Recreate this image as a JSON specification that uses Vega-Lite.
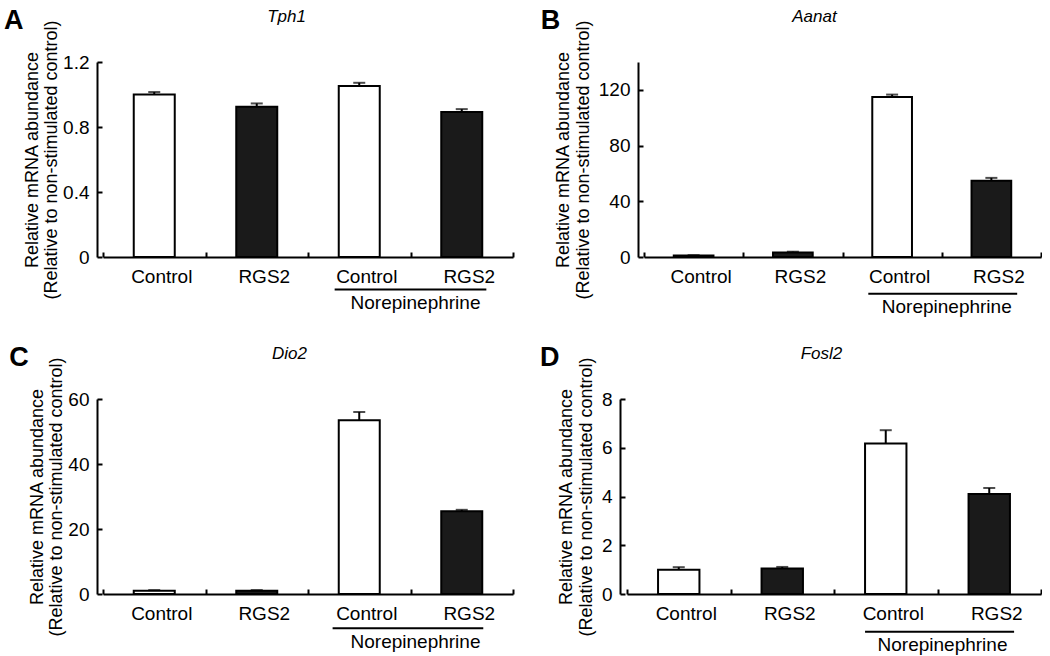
{
  "$schema": "https://vega.github.io/schema/vega-lite/v6.json",
  "padding": {"left": 4, "top": 7, "right": 0, "bottom": 0},
  "background": "white",
  "datasets": {
    "expr": [
      {"gene": "Tph1", "group": "Control", "treatment": "Control", "mean": 1.0, "upper": 1.015},
      {"gene": "Tph1", "group": "RGS2", "treatment": "RGS2", "mean": 0.925, "upper": 0.945},
      {"gene": "Tph1", "group": "NE Control", "treatment": "Control", "mean": 1.052, "upper": 1.072},
      {"gene": "Tph1", "group": "NE RGS2", "treatment": "RGS2", "mean": 0.893, "upper": 0.91},
      {"gene": "Aanat", "group": "Control", "treatment": "Control", "mean": 1.0, "upper": 1.3},
      {"gene": "Aanat", "group": "RGS2", "treatment": "RGS2", "mean": 3.2, "upper": 3.8},
      {"gene": "Aanat", "group": "NE Control", "treatment": "Control", "mean": 114.8, "upper": 116.6},
      {"gene": "Aanat", "group": "NE RGS2", "treatment": "RGS2", "mean": 54.8, "upper": 56.8},
      {"gene": "Dio2", "group": "Control", "treatment": "Control", "mean": 1.0, "upper": 1.2},
      {"gene": "Dio2", "group": "RGS2", "treatment": "RGS2", "mean": 1.0, "upper": 1.2},
      {"gene": "Dio2", "group": "NE Control", "treatment": "Control", "mean": 53.5, "upper": 56.0},
      {"gene": "Dio2", "group": "NE RGS2", "treatment": "RGS2", "mean": 25.5, "upper": 25.9},
      {"gene": "Fosl2", "group": "Control", "treatment": "Control", "mean": 1.0, "upper": 1.1},
      {"gene": "Fosl2", "group": "RGS2", "treatment": "RGS2", "mean": 1.05, "upper": 1.11},
      {"gene": "Fosl2", "group": "NE Control", "treatment": "Control", "mean": 6.17, "upper": 6.72},
      {"gene": "Fosl2", "group": "NE RGS2", "treatment": "RGS2", "mean": 4.1, "upper": 4.35}
    ],
    "bracket": [
      {"from": "NE Control", "to": "NE RGS2", "label": "Norepinephrine"}
    ]
  },
  "columns": 2,
  "spacing": {"row": 142, "column": 114},
  "bounds": "flush",
  "concat": [
    {
      "title": {"text": "A", "anchor": "start", "frame": "bounds", "fontSize": 27, "fontWeight": "bold", "color": "black", "offset": -28, "dx": -19},
      "width": 410, "height": 195,
      "resolve": {"axis": {"x": "independent"}},
      "layer": [
        {
          "data": {"name": "expr"}, "transform": [{"filter": "datum.gene === 'Tph1'"}],
          "mark": {"type": "bar", "stroke": "black", "strokeWidth": 2, "width": {"band": 0.4}, "clip": false},
          "encoding": {
            "x": {"field": "group", "type": "nominal", "sort": null,
              "scale": {"domain": ["Control", "RGS2", "NE Control", "NE RGS2"], "paddingInner": 0, "paddingOuter": 0},
              "axis": {"title": null, "tickBand": "extent", "labelExpr": "replace(datum.label, 'NE ', '')", "labelAngle": 0, "labelPadding": 15.5, "labelBaseline": "top", "labelOffset": 7}},
            "y": {"field": "mean", "type": "quantitative", "scale": {"domain": [0, 1.2], "nice": false},
              "axis": {"values": [0, 0.2, 0.4, 0.6, 0.8, 1, 1.2], "format": "~g", "labelExpr": "abs(datum.value / 0.4 - round(datum.value / 0.4)) < 0.001 ? datum.label : ''", "labelPadding": 13, "labelOverlap": false, "offset": 6,
                "title": ["Relative mRNA abundance", "(Relative to non-stimulated control)"], "titleFontSize": 18, "titleLineHeight": 19.5, "titlePadding": 2, "titleFontWeight": "normal"}},
            "fill": {"field": "treatment", "type": "nominal", "scale": {"domain": ["Control", "RGS2"], "range": ["white", "#1a1a1a"]}, "legend": null}
          }
        },
        {
          "data": {"name": "expr"}, "transform": [{"filter": "datum.gene === 'Tph1'"}],
          "mark": {"type": "rule", "strokeWidth": 2, "color": "black", "clip": false},
          "encoding": {
            "x": {"field": "group", "type": "nominal", "axis": null},
            "y": {"field": "mean", "type": "quantitative"},
            "y2": {"field": "upper"}
          }
        },
        {
          "data": {"name": "expr"}, "transform": [{"filter": "datum.gene === 'Tph1'"}],
          "mark": {"type": "tick", "size": 12, "thickness": 2, "color": "black", "clip": false},
          "encoding": {
            "x": {"field": "group", "type": "nominal",
              "axis": {"orient": "top", "title": "Tph1", "labels": false, "ticks": false, "domain": false, "titleFontStyle": "italic", "titleFontWeight": "normal", "titleFontSize": 17, "titleX": 183, "titleY": -46, "titleBaseline": "middle", "titleAlign": "center"}},
            "y": {"field": "upper", "type": "quantitative"}
          }
        },
        {
          "data": {"name": "bracket"},
          "mark": {"type": "rule", "strokeWidth": 2, "color": "black", "clip": false},
          "encoding": {
            "x": {"field": "from", "type": "nominal", "bandPosition": 0.26, "axis": null},
            "x2": {"field": "to", "bandPosition": 0.74},
            "y": {"datum": -0.2}
          }
        },
        {
          "data": {"name": "bracket"},
          "mark": {"type": "text", "fontSize": 19, "dx": 5, "baseline": "middle", "color": "black", "clip": false},
          "encoding": {
            "x": {"field": "to", "type": "nominal", "bandPosition": 0, "axis": null},
            "y": {"datum": -0.286},
            "text": {"field": "label"}
          }
        }
      ]
    },
    {
      "title": {"text": "B", "anchor": "start", "frame": "bounds", "fontSize": 27, "fontWeight": "bold", "color": "black", "offset": -28, "dx": -14},
      "width": 414, "height": 195,
      "resolve": {"axis": {"x": "independent"}},
      "layer": [
        {
          "data": {"name": "expr"}, "transform": [{"filter": "datum.gene === 'Aanat'"}],
          "mark": {"type": "bar", "stroke": "black", "strokeWidth": 2, "width": {"band": 0.4}, "clip": false},
          "encoding": {
            "x": {"field": "group", "type": "nominal", "sort": null,
              "scale": {"domain": ["Control", "RGS2", "NE Control", "NE RGS2"], "paddingInner": 0, "paddingOuter": 0, "range": [17, 414]},
              "axis": {"title": null, "tickBand": "extent", "labelExpr": "replace(datum.label, 'NE ', '')", "labelAngle": 0, "labelPadding": 15.5, "labelBaseline": "top", "labelOffset": 7}},
            "y": {"field": "mean", "type": "quantitative", "scale": {"domain": [0, 140], "nice": false},
              "axis": {"values": [0, 20, 40, 60, 80, 100, 120, 140], "labelExpr": "datum.value % 40 == 0 ? datum.label : ''", "labelPadding": 13, "labelOverlap": false, "offset": -11,
                "title": ["Relative mRNA abundance", "(Relative to non-stimulated control)"], "titleFontSize": 18, "titleLineHeight": 19.5, "titlePadding": 6, "titleFontWeight": "normal"}},
            "fill": {"field": "treatment", "type": "nominal", "scale": {"domain": ["Control", "RGS2"], "range": ["white", "#1a1a1a"]}, "legend": null}
          }
        },
        {
          "data": {"name": "expr"}, "transform": [{"filter": "datum.gene === 'Aanat'"}],
          "mark": {"type": "rule", "strokeWidth": 2, "color": "black", "clip": false},
          "encoding": {
            "x": {"field": "group", "type": "nominal", "axis": null},
            "y": {"field": "mean", "type": "quantitative"},
            "y2": {"field": "upper"}
          }
        },
        {
          "data": {"name": "expr"}, "transform": [{"filter": "datum.gene === 'Aanat'"}],
          "mark": {"type": "tick", "size": 12, "thickness": 2, "color": "black", "clip": false},
          "encoding": {
            "x": {"field": "group", "type": "nominal",
              "axis": {"orient": "top", "title": "Aanat", "labels": false, "ticks": false, "domain": false, "titleFontStyle": "italic", "titleFontWeight": "normal", "titleFontSize": 17, "titleX": 187, "titleY": -46, "titleBaseline": "middle", "titleAlign": "center"}},
            "y": {"field": "upper", "type": "quantitative"}
          }
        },
        {
          "data": {"name": "bracket"},
          "mark": {"type": "rule", "strokeWidth": 2, "color": "black", "clip": false},
          "encoding": {
            "x": {"field": "from", "type": "nominal", "bandPosition": 0.26, "axis": null},
            "x2": {"field": "to", "bandPosition": 0.76},
            "y": {"datum": -26.4}
          }
        },
        {
          "data": {"name": "bracket"},
          "mark": {"type": "text", "fontSize": 19, "dx": 5, "baseline": "middle", "color": "black", "clip": false},
          "encoding": {
            "x": {"field": "to", "type": "nominal", "bandPosition": 0, "axis": null},
            "y": {"datum": -36},
            "text": {"field": "label"}
          }
        }
      ]
    },
    {
      "title": {"text": "C", "anchor": "start", "frame": "bounds", "fontSize": 27, "fontWeight": "bold", "color": "black", "offset": -28, "dx": -19},
      "width": 410, "height": 195,
      "resolve": {"axis": {"x": "independent"}},
      "layer": [
        {
          "data": {"name": "expr"}, "transform": [{"filter": "datum.gene === 'Dio2'"}],
          "mark": {"type": "bar", "stroke": "black", "strokeWidth": 2, "width": {"band": 0.4}, "clip": false},
          "encoding": {
            "x": {"field": "group", "type": "nominal", "sort": null,
              "scale": {"domain": ["Control", "RGS2", "NE Control", "NE RGS2"], "paddingInner": 0, "paddingOuter": 0},
              "axis": {"title": null, "tickBand": "extent", "labelExpr": "replace(datum.label, 'NE ', '')", "labelAngle": 0, "labelPadding": 15.5, "labelBaseline": "top", "labelOffset": 7}},
            "y": {"field": "mean", "type": "quantitative", "scale": {"domain": [0, 60], "nice": false},
              "axis": {"values": [0, 10, 20, 30, 40, 50, 60], "labelExpr": "datum.value % 20 == 0 ? datum.label : ''", "labelPadding": 13, "labelOverlap": false, "offset": 6,
                "title": ["Relative mRNA abundance", "(Relative to non-stimulated control)"], "titleFontSize": 18, "titleLineHeight": 19.5, "titlePadding": 2, "titleFontWeight": "normal"}},
            "fill": {"field": "treatment", "type": "nominal", "scale": {"domain": ["Control", "RGS2"], "range": ["white", "#1a1a1a"]}, "legend": null}
          }
        },
        {
          "data": {"name": "expr"}, "transform": [{"filter": "datum.gene === 'Dio2'"}],
          "mark": {"type": "rule", "strokeWidth": 2, "color": "black", "clip": false},
          "encoding": {
            "x": {"field": "group", "type": "nominal", "axis": null},
            "y": {"field": "mean", "type": "quantitative"},
            "y2": {"field": "upper"}
          }
        },
        {
          "data": {"name": "expr"}, "transform": [{"filter": "datum.gene === 'Dio2'"}],
          "mark": {"type": "tick", "size": 12, "thickness": 2, "color": "black", "clip": false},
          "encoding": {
            "x": {"field": "group", "type": "nominal",
              "axis": {"orient": "top", "title": "Dio2", "labels": false, "ticks": false, "domain": false, "titleFontStyle": "italic", "titleFontWeight": "normal", "titleFontSize": 17, "titleX": 186, "titleY": -46, "titleBaseline": "middle", "titleAlign": "center"}},
            "y": {"field": "upper", "type": "quantitative"}
          }
        },
        {
          "data": {"name": "bracket"},
          "mark": {"type": "rule", "strokeWidth": 2, "color": "black", "clip": false},
          "encoding": {
            "x": {"field": "from", "type": "nominal", "bandPosition": 0.24, "axis": null},
            "x2": {"field": "to", "bandPosition": 0.71},
            "y": {"datum": -10.5}
          }
        },
        {
          "data": {"name": "bracket"},
          "mark": {"type": "text", "fontSize": 19, "dx": 5, "baseline": "middle", "color": "black", "clip": false},
          "encoding": {
            "x": {"field": "to", "type": "nominal", "bandPosition": 0, "axis": null},
            "y": {"datum": -14.7},
            "text": {"field": "label"}
          }
        }
      ]
    },
    {
      "title": {"text": "D", "anchor": "start", "frame": "bounds", "fontSize": 27, "fontWeight": "bold", "color": "black", "offset": -28, "dx": -18},
      "width": 414, "height": 195,
      "resolve": {"axis": {"x": "independent"}},
      "layer": [
        {
          "data": {"name": "expr"}, "transform": [{"filter": "datum.gene === 'Fosl2'"}],
          "mark": {"type": "bar", "stroke": "black", "strokeWidth": 2, "width": {"band": 0.4}, "clip": false},
          "encoding": {
            "x": {"field": "group", "type": "nominal", "sort": null,
              "scale": {"domain": ["Control", "RGS2", "NE Control", "NE RGS2"], "paddingInner": 0, "paddingOuter": 0},
              "axis": {"title": null, "tickBand": "extent", "labelExpr": "replace(datum.label, 'NE ', '')", "labelAngle": 0, "labelPadding": 15.5, "labelBaseline": "top", "labelOffset": 7}},
            "y": {"field": "mean", "type": "quantitative", "scale": {"domain": [0, 8], "nice": false},
              "axis": {"values": [0, 1, 2, 3, 4, 5, 6, 7, 8], "labelExpr": "datum.value % 2 == 0 ? datum.label : ''", "labelPadding": 13, "labelOverlap": false, "offset": 7,
                "title": ["Relative mRNA abundance", "(Relative to non-stimulated control)"], "titleFontSize": 18, "titleLineHeight": 19.5, "titlePadding": 6, "titleFontWeight": "normal"}},
            "fill": {"field": "treatment", "type": "nominal", "scale": {"domain": ["Control", "RGS2"], "range": ["white", "#1a1a1a"]}, "legend": null}
          }
        },
        {
          "data": {"name": "expr"}, "transform": [{"filter": "datum.gene === 'Fosl2'"}],
          "mark": {"type": "rule", "strokeWidth": 2, "color": "black", "clip": false},
          "encoding": {
            "x": {"field": "group", "type": "nominal", "axis": null},
            "y": {"field": "mean", "type": "quantitative"},
            "y2": {"field": "upper"}
          }
        },
        {
          "data": {"name": "expr"}, "transform": [{"filter": "datum.gene === 'Fosl2'"}],
          "mark": {"type": "tick", "size": 12, "thickness": 2, "color": "black", "clip": false},
          "encoding": {
            "x": {"field": "group", "type": "nominal",
              "axis": {"orient": "top", "title": "Fosl2", "labels": false, "ticks": false, "domain": false, "titleFontStyle": "italic", "titleFontWeight": "normal", "titleFontSize": 17, "titleX": 194, "titleY": -46, "titleBaseline": "middle", "titleAlign": "center"}},
            "y": {"field": "upper", "type": "quantitative"}
          }
        },
        {
          "data": {"name": "bracket"},
          "mark": {"type": "rule", "strokeWidth": 2, "color": "black", "clip": false},
          "encoding": {
            "x": {"field": "from", "type": "nominal", "bandPosition": 0.3, "axis": null},
            "x2": {"field": "to", "bandPosition": 0.74},
            "y": {"datum": -1.55}
          }
        },
        {
          "data": {"name": "bracket"},
          "mark": {"type": "text", "fontSize": 19, "dx": 5, "baseline": "middle", "color": "black", "clip": false},
          "encoding": {
            "x": {"field": "to", "type": "nominal", "bandPosition": 0, "axis": null},
            "y": {"datum": -2.09},
            "text": {"field": "label"}
          }
        }
      ]
    }
  ],
  "config": {
    "view": {"stroke": null},
    "font": "Liberation Sans",
    "axis": {"domainColor": "black", "domainWidth": 2, "tickColor": "black", "tickWidth": 2, "tickSize": -5, "labelColor": "black", "labelFont": "Liberation Sans", "labelFontSize": 19, "titleColor": "black", "titleFont": "Liberation Sans", "grid": false},
    "title": {"font": "Liberation Sans", "color": "black"}
  }
}
